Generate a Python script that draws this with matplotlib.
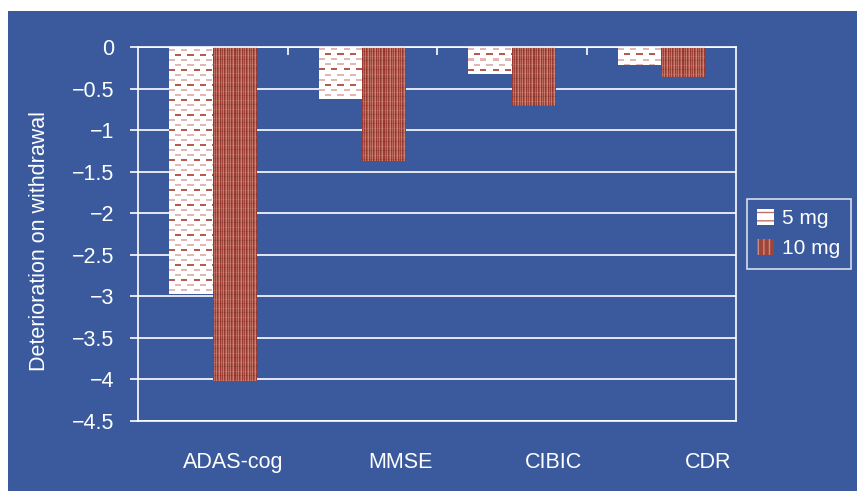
#Donepezil withdrawal: deterioration by scale and dose
import numpy as np
import matplotlib
matplotlib.use('Agg')
import matplotlib.pyplot as plt
from matplotlib.patches import Rectangle

plt.rcParams['font.family'] = ['Liberation Sans', 'DejaVu Sans']
plt.rcParams['hatch.linewidth'] = 1.0

#data
scales = ['ADAS-cog', 'MMSE', 'CIBIC', 'CDR']
doses = ['5 mg', '10 mg']
change_5mg = [-2.97, -0.63, -0.33, -0.22]
change_10mg = [-4.02, -1.37, -0.71, -0.36]
yticks = np.arange(0, -4.51, -0.5)

panel_blue = '#3A5A9D'
brick = '#A0443A'

#textures for the bar fills (pixel patterns)
def dash_texture(h, w):
    img = np.ones((h, w, 3))
    light = np.array([0.88, 0.72, 0.70])
    dark = np.array([0.72, 0.36, 0.32])
    for k, r in enumerate(range(2, h, 5)):
        col = dark if k % 3 == 1 else light
        off = 0 if k % 2 == 0 else 6
        for c0 in range(off - 12, w, 12):
            a, b = max(c0, 0), min(c0 + 6, w)
            if b > a:
                img[r:r + 2, a:b] = col
    return img

def stripe_texture(h, w):
    base = np.array([0.60, 0.23, 0.19])
    cols = [0.0, 0.45, 0.1, 0.6, 0.0, 0.3, 0.7]
    img = np.zeros((h, w, 3))
    light = np.array([0.88, 0.62, 0.56])
    for c in range(w):
        t = cols[c % len(cols)]
        img[:, c] = base * (1 - t) + light * t
    img[::9] = img[::9] * 0.8 + light * 0.2
    img[4::9] = img[4::9] * 0.9
    return img

fig = plt.figure(figsize=(8.57, 4.91), dpi=100)
fig.patch.set_facecolor('white')
fig.patches.append(Rectangle((8 / 857, 0), 1, 1 - 11 / 491, transform=fig.transFigure,
                             facecolor=panel_blue, edgecolor='none', zorder=-1))

ax = fig.add_axes([138 / 857, 1 - 421 / 491, 598 / 857, 374 / 491])
ax.set_facecolor(panel_blue)

x = np.arange(len(scales))
w = 0.29
b1 = ax.bar(x - w / 2, change_5mg, w, color='white', hatch='--', edgecolor='#C0706A',
            linewidth=0, label=doses[0], zorder=2)
b2 = ax.bar(x + w / 2, change_10mg, w, color=brick, hatch='|||', edgecolor='#C98A80',
            linewidth=0, label=doses[1], zorder=2)

ax.set_xlim(-0.5, len(scales) - 0.5)
ax.set_ylim(-4.5, 0)

#overlay the textures on each bar
for bars, tex in [(b1, dash_texture), (b2, stripe_texture)]:
    for p in bars:
        x0, y0 = p.get_x(), p.get_y()
        x1, y1 = x0 + p.get_width(), y0 + p.get_height()
        (px0, py0), (px1, py1) = ax.transData.transform([(x0, y0), (x1, y1)])
        hp = max(int(round(abs(py1 - py0))), 1)
        wp = max(int(round(abs(px1 - px0))), 1)
        im = ax.imshow(tex(hp, wp), extent=(x0, x1, y1, y0), aspect='auto',
                       interpolation='nearest', origin='upper', zorder=2.5)
        im.set_clip_path(p)

ax.set_xlim(-0.5, len(scales) - 0.5)
ax.set_ylim(-4.5, 0)

#axes styling
ax.set_yticks(yticks)
ax.set_yticklabels(['0'] + ['\u2212%g' % abs(v) for v in yticks[1:]])
#category names sit right-aligned near the end of each slot
ax.set_xticks(x + 0.47)
ax.set_xticklabels(scales, ha='right')
ax.set_xticks(x[:-1] + 0.5, minor=True)
ax.tick_params(axis='y', colors='white', labelsize=15.5, length=6, width=1.2, pad=11)
ax.tick_params(axis='x', which='major', colors='white', labelsize=15.5, length=0, pad=22)
ax.tick_params(axis='x', which='minor', top=True, bottom=False, direction='in',
               length=6, width=1.2, color='white')
for s in ax.spines.values():
    s.set_color('white')
    s.set_linewidth(1.2)
ax.yaxis.grid(True, color='white', lw=1.2)
ax.set_axisbelow(True)
ax.set_ylabel('Deterioration on withdrawal', color='white', fontsize=15.5, labelpad=16)
ax.yaxis.label.set_y(0.481)

leg = ax.legend(loc='upper left', bbox_to_anchor=(1.018, 0.594), borderaxespad=0,
                fontsize=15, frameon=True, fancybox=False, handlelength=0.8,
                handleheight=0.8, handletextpad=0.4, labelspacing=0.5, borderpad=0.5)
leg.get_frame().set_facecolor(panel_blue)
leg.get_frame().set_edgecolor('white')
leg.get_frame().set_linewidth(1.2)
for t in leg.get_texts():
    t.set_color('white')

plt.savefig('out.png', dpi=100, facecolor=fig.get_facecolor())
